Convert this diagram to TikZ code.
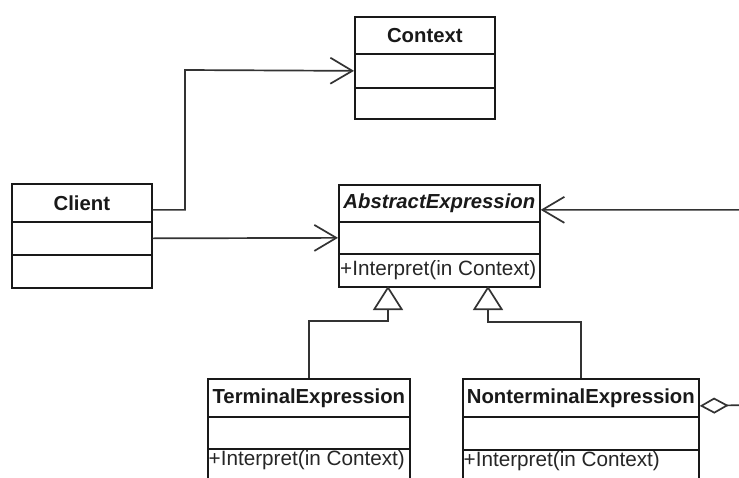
\documentclass[tikz,border=0pt]{standalone}
\usepackage{fontspec}
\setmainfont{Liberation Sans}
\usetikzlibrary{arrows.meta}
\begin{document}
\begin{tikzpicture}[x=1pt,y=-1pt,
  part/.style={draw=black!90, line width=1.7pt, fill=white, inner sep=0pt, anchor=north west},
  hdr/.style={part, font=\fontsize{20.3}{24}\selectfont\bfseries, text=black!90},
  hdri/.style={hdr, font=\fontsize{20.3}{24}\selectfont\bfseries\itshape},
  mtxt/.style={inner sep=0pt, anchor=west, font=\fontsize{20.7}{24}\selectfont, text=black!85},
  conn/.style={draw=black!80, line width=1.7pt},
  barb/.style={-{Straight Barb[length=22pt,width=26pt]}},
  inh/.style={-{Triangle[open,length=24pt,width=30pt]}},
]
\clip (0,0) rectangle (739,477);
\fill[white] (0,0) rectangle (739,477);

% Context
\node[hdr, minimum width=140pt, minimum height=37pt] (ctxH) at (354,16) {Context};
\node[part, minimum width=140pt, minimum height=34pt] (ctxA) at (354,53) {};
\node[part, minimum width=140pt, minimum height=31pt] (ctxM) at (354,87) {};

% Client
\node[hdr, minimum width=140pt, minimum height=38pt] (clH) at (11,183) {Client};
\node[part, minimum width=140pt, minimum height=33pt] (clA) at (11,221) {};
\node[part, minimum width=140pt, minimum height=33pt] (clM) at (11,254) {};

% AbstractExpression
\node[hdri, minimum width=201pt, minimum height=37pt] (abH) at (338,184) {AbstractExpression};
\node[part, minimum width=201pt, minimum height=32pt] (abA) at (338,221) {};
\node[part, minimum width=201pt, minimum height=33pt] (abM) at (338,253) {};
\node[mtxt] (abT) at ([xshift=2pt]abM.west) {+Interpret(in Context)};

% TerminalExpression
\node[hdr, minimum width=202pt, minimum height=38pt] (teH) at (207,378) {TerminalExpression};
\node[part, minimum width=202pt, minimum height=32pt] (teA) at (207,416) {};
\node[part, minimum width=202pt, minimum height=60pt] (teM) at (207,448) {};
\node[mtxt] (teT) at ([xshift=1.5pt,yshift=-12pt]teM.north west) {+Interpret(in Context)};

% NonterminalExpression
\node[hdr, minimum width=236pt, minimum height=38pt] (ntH) at (462,378) {NonterminalExpression};
\node[part, minimum width=236pt, minimum height=33pt] (ntA) at (462,416) {};
\node[part, minimum width=236pt, minimum height=60pt] (ntM) at (462,449) {};
\node[mtxt] (ntT) at ([xshift=1.5pt,yshift=-12pt]ntM.north west) {+Interpret(in Context)};

% coordinates
\coordinate (cbend) at (185,70);
\coordinate (t1) at (388,286);
\coordinate (t1b) at (388,321);
\coordinate (n1) at (488,286);
\coordinate (n1b) at (488,322);
\coordinate (rr) at (752,405);

% connectors
\draw[conn, barb] ([yshift=-7pt]clH.east) -| (cbend) -- (ctxA.west);
\draw[conn, barb] (clA.east) -- (abA.west);
\draw[conn, inh] (teH.north) |- (t1b) -- (t1);
\draw[conn, inh] (ntH.north) |- (n1b) -- (n1);
\draw[conn, {Diamond[open,length=29pt,width=16pt]}-{Straight Barb[length=22pt,width=26pt]}]
  ([yshift=-8pt]ntH.east) -- (rr) |- ([yshift=-6.5pt]abH.east);
\end{tikzpicture}
\end{document}
